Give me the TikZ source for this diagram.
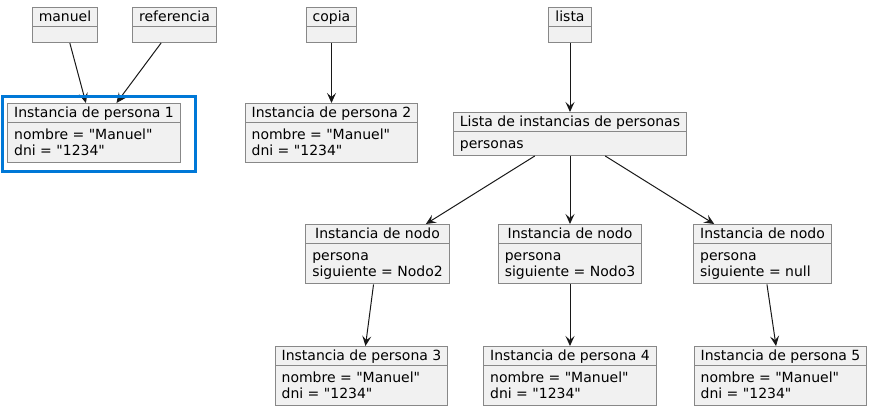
\documentclass[tikz,border=0pt]{standalone}
\usepackage{fontspec}
\newfontfamily\objfont{DejaVu Sans}
\usetikzlibrary{shapes.multipart,arrows.meta}

\definecolor{objfill}{HTML}{F1F1F1}
\definecolor{objline}{HTML}{888888}
\definecolor{arrline}{HTML}{181818}
\definecolor{marca}{HTML}{0078D7}

\newcommand{\objtitle}[1]{\rule[-4.5pt]{0pt}{18.5pt}#1}
\newcommand{\objbody}[1]{\begin{tabular}[t]{@{}l@{}}\rule{0pt}{16pt}#1\rule[-6.5pt]{0pt}{0pt}\end{tabular}}
\newcommand{\objempty}{\rule{0pt}{14.5pt}}

\begin{document}
\begin{tikzpicture}[x=1pt,y=-1pt]
\tikzstyle{obj}=[rectangle split,rectangle split parts=2,
    rectangle split part align={center,left},
    draw=objline,fill=objfill,line width=1pt,
    inner xsep=6.5pt,inner ysep=0pt,anchor=north,
    font=\objfont\fontsize{14}{16.5}\selectfont]
\tikzstyle{arr}=[draw=arrline,line width=1pt,
    -{Stealth[length=10pt,width=9pt,inset=4pt]}]

\useasboundingbox (0,0) rectangle (871,411);

% variables
\node [obj] (manuel) at (65,7) {\objtitle{manuel}\nodepart{two}\objempty};
\node [obj] (referencia) at (174.5,7) {\objtitle{referencia}\nodepart{two}\objempty};
\node [obj] (copia) at (331.5,7) {\objtitle{copia}\nodepart{two}\objempty};
\node [obj] (lista) at (570,7) {\objtitle{lista}\nodepart{two}\objempty};

% personas
\node [obj] (p1) at (94,103) {\objtitle{Instancia de persona 1}\nodepart{two}\objbody{nombre = "Manuel"\\ dni = "1234"}};
\node [obj] (p2) at (331.5,103) {\objtitle{Instancia de persona 2}\nodepart{two}\objbody{nombre = "Manuel"\\ dni = "1234"}};

% lista
\node [obj] (lp) at (570,112) {\objtitle{Lista de instancias de personas}\nodepart{two}\objbody{personas}};

\node [obj] (n1) at (377.5,224) {\objtitle{Instancia de nodo}\nodepart{two}\objbody{persona\\ siguiente = Nodo2}};
\node [obj] (n2) at (570,224) {\objtitle{Instancia de nodo}\nodepart{two}\objbody{persona\\ siguiente = Nodo3}};
\node [obj] (n3) at (762.5,224) {\objtitle{Instancia de nodo}\nodepart{two}\objbody{persona\\ siguiente = null}};

\node [obj] (p3) at (361.5,346) {\objtitle{Instancia de persona 3}\nodepart{two}\objbody{nombre = "Manuel"\\ dni = "1234"}};
\node [obj] (p4) at (570,346) {\objtitle{Instancia de persona 4}\nodepart{two}\objbody{nombre = "Manuel"\\ dni = "1234"}};
\node [obj] (p5) at (780.5,346) {\objtitle{Instancia de persona 5}\nodepart{two}\objbody{nombre = "Manuel"\\ dni = "1234"}};

\draw[arr] (manuel) -- (p1);
\draw[arr] (referencia) -- (p1);
\draw[arr] (copia) -- (p2);
\draw[arr] (lista) -- (lp);

\draw[arr] (lp) -- (n1);
\draw[arr] (lp) -- (n2);
\draw[arr] (lp) -- (n3);

\draw[arr] (n1) -- (p3);
\draw[arr] (n2) -- (p4);
\draw[arr] (n3) -- (p5);

\draw[marca,line width=3pt]
    ([shift={(-5pt,6pt)}]p1.north west) rectangle ([shift={(14.5pt,-8pt)}]p1.south east);

\end{tikzpicture}
\end{document}
